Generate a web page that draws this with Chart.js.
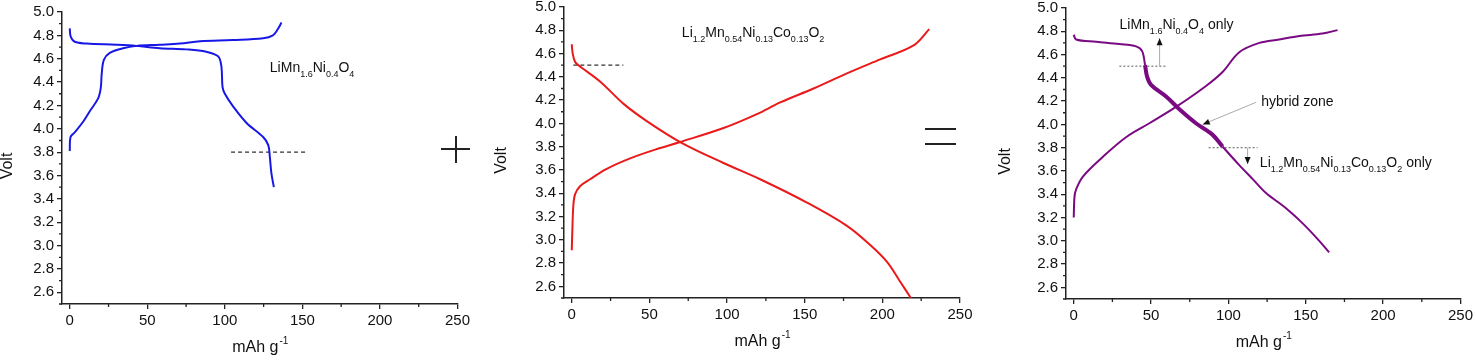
<!DOCTYPE html>
<html>
<head>
<meta charset="utf-8">
<script src="https://cdn.jsdelivr.net/npm/chart.js@4.4.1/dist/chart.umd.min.js"></script>
<style>
  html, body { margin: 0; padding: 0; background: #fff; }
  #wrap { position: relative; width: 1476px; height: 360px; overflow: hidden; }
  canvas { position: absolute; }
  .op { position: absolute; background: #222; }
</style>
</head>
<body>
<div id="wrap">
  <canvas id="c1" width="480" height="360" style="left:0px;top:0px"></canvas>
  <canvas id="c2" width="496" height="365" style="left:484px;top:-5px"></canvas>
  <canvas id="c3" width="496" height="364" style="left:980px;top:-4px"></canvas>
  <!-- signes entre les panneaux -->
  <div class="op" style="left:441px;top:148px;width:29px;height:1.5px"></div>
  <div class="op" style="left:455px;top:136px;width:1.5px;height:27px"></div>
  <div class="op" style="left:925px;top:128px;width:31px;height:1.5px"></div>
  <div class="op" style="left:925px;top:143px;width:31px;height:1.5px"></div>
</div>
<script>
// Axes
const xTicks = [0, 50, 100, 150, 200, 250];
const xMinor = [25, 75, 125, 175, 225];
const yTicks = [2.6, 2.8, 3.0, 3.2, 3.4, 3.6, 3.8, 4.0, 4.2, 4.4, 4.6, 4.8, 5.0];
const yMinor = [2.5, 2.7, 2.9, 3.1, 3.3, 3.5, 3.7, 3.9, 4.1, 4.3, 4.5, 4.7, 4.9];

// LiMn1.6Ni0.4O4 (bleu)
const lmnoChargeX = [0, 0.5, 3.2, 8.6, 12.9, 18.3, 20, 20.6, 22, 25.8, 34.4, 43, 58, 71, 84, 105, 124.7, 131, 134, 136.5];
const lmnoChargeY = [3.81, 3.93, 3.97, 4.06, 4.15, 4.26, 4.35, 4.47, 4.59, 4.65, 4.69, 4.71, 4.72, 4.73, 4.75, 4.76, 4.775, 4.80, 4.85, 4.91];
const lmnoDischX = [0, 0.6, 3.2, 10.8, 30, 43, 58, 75, 88, 95.7, 97.8, 98.5, 100, 105.4, 114, 124.7, 128, 129, 130, 131.6];
const lmnoDischY = [4.86, 4.79, 4.745, 4.73, 4.72, 4.71, 4.69, 4.68, 4.66, 4.62, 4.53, 4.36, 4.30, 4.19, 4.05, 3.93, 3.86, 3.76, 3.62, 3.50];
const lmnoCutX = [104, 152.7];
const lmnoCutY = [3.8, 3.8];

// Li1.2Mn0.54Ni0.13Co0.13O2 (rouge)
const lrChargeX = [0, 0.4, 1.0, 2.1, 5.3, 11.8, 22.5, 37.6, 54.8, 69.8, 97.7, 119.2, 134.2, 155.7, 177.2, 198.6, 220.1, 230.2];
const lrChargeY = [2.91, 3.09, 3.29, 3.39, 3.46, 3.52, 3.61, 3.70, 3.78, 3.84, 3.96, 4.08, 4.18, 4.30, 4.43, 4.55, 4.67, 4.81];
const lrDischX = [0, 0.6, 2.1, 4.3, 18.2, 33.2, 48.3, 69.8, 97.7, 121.3, 151.4, 177.2, 192.2, 203, 211.5, 218.4];
const lrDischY = [4.68, 4.60, 4.53, 4.50, 4.36, 4.17, 4.02, 3.84, 3.66, 3.52, 3.32, 3.12, 2.955, 2.81, 2.64, 2.50];
const lrCutX = [1, 33.2];
const lrCutY = [4.5, 4.5];

// hybride (violet)
const hyChargeX = [0, 0.5, 1.5, 5.8, 18.7, 33.8, 48.9, 66.1, 85.5, 96.2, 107, 120, 132.8, 145.8, 160.8, 170.5];
const hyChargeY = [3.20, 3.38, 3.44, 3.55, 3.72, 3.89, 4.01, 4.15, 4.33, 4.45, 4.62, 4.70, 4.73, 4.76, 4.78, 4.81];
const hyDischX = [0, 1.5, 14.5, 29.5, 40.3, 44.2, 46.1, 47.4, 50, 59.7, 68.3, 79, 89.8, 96.2, 107, 115.7, 124.3, 137.2, 148, 158.7, 165.1];
const hyDischY = [4.77, 4.73, 4.71, 4.69, 4.67, 4.63, 4.51, 4.41, 4.34, 4.24, 4.13, 4.01, 3.91, 3.81, 3.65, 3.53, 3.41, 3.28, 3.15, 3.00, 2.90];
const hyZone = [46, 97]; // partie épaisse
const hyCutHighX = [29.5, 59.7];
const hyCutHighY = [4.5, 4.5];
const hyCutLowX = [87.2, 118.8];
const hyCutLowY = [3.8, 3.8];

const axisColor = '#222';
const FONT = '"Liberation Sans", Arial, sans-serif';

function pts(xs, ys) {
  return xs.map((x, i) => ({ x: x, y: ys[i] }));
}

function courbe(xs, ys, color, extra) {
  return Object.assign({
    data: pts(xs, ys),
    showLine: true,
    borderColor: color,
    borderWidth: 2,
    pointRadius: 0,
    fill: false,
    tension: 0.35
  }, extra || {});
}

function pointille(xs, ys, color, dash) {
  return {
    data: pts(xs, ys),
    showLine: true,
    borderColor: color,
    borderWidth: 1.2,
    borderDash: dash,
    pointRadius: 0,
    fill: false
  };
}

// texte avec indices : 'Li_{1.2}Mn_{0.54}'
function drawChem(ctx, x, y, txt, size) {
  const morceaux = txt.split(/(_\{[^}]*\})/).filter(s => s.length);
  ctx.textBaseline = 'alphabetic';
  ctx.textAlign = 'left';
  let cx = x;
  morceaux.forEach(m => {
    if (m.startsWith('_{')) {
      const s = m.slice(2, -1);
      ctx.font = (size - 5) + 'px ' + FONT;
      ctx.fillText(s, cx, y + 5);
      cx += ctx.measureText(s).width;
    } else {
      ctx.font = size + 'px ' + FONT;
      ctx.fillText(m, cx, y);
      cx += ctx.measureText(m).width;
    }
  });
}

function fleche(ctx, x1, y1, x2, y2) {
  ctx.strokeStyle = '#aaa';
  ctx.lineWidth = 1;
  ctx.beginPath();
  ctx.moveTo(x1, y1);
  ctx.lineTo(x2, y2);
  ctx.stroke();
  const ang = Math.atan2(y2 - y1, x2 - x1);
  const L = 7, W = 3;
  ctx.fillStyle = '#111';
  ctx.beginPath();
  ctx.moveTo(x2, y2);
  ctx.lineTo(x2 - L * Math.cos(ang) + W * Math.sin(ang), y2 - L * Math.sin(ang) - W * Math.cos(ang));
  ctx.lineTo(x2 - L * Math.cos(ang) - W * Math.sin(ang), y2 - L * Math.sin(ang) + W * Math.cos(ang));
  ctx.closePath();
  ctx.fill();
}

const decor = {
  id: 'decor',
  afterDraw(chart, args, opts) {
    const { ctx, chartArea: a, scales: { x, y } } = chart;
    ctx.save();
    // petits traits
    ctx.strokeStyle = axisColor;
    ctx.lineWidth = 1.3;
    ctx.beginPath();
    xMinor.forEach(v => {
      const px = x.getPixelForValue(v);
      ctx.moveTo(px, a.bottom);
      ctx.lineTo(px, a.bottom + 3);
    });
    yMinor.forEach(v => {
      const py = y.getPixelForValue(v);
      ctx.moveTo(a.left, py);
      ctx.lineTo(a.left - 3, py);
    });
    ctx.stroke();

    ctx.fillStyle = '#111';
    // titre x
    ctx.font = '16px ' + FONT;
    const t1 = 'mAh g', t2 = '-1';
    const w1 = ctx.measureText(t1).width;
    ctx.font = '10px ' + FONT;
    const w2 = ctx.measureText(t2).width;
    const cx = (a.left + a.right) / 2 - (w1 + w2) / 2;
    const by = a.bottom + 48;
    ctx.textBaseline = 'alphabetic';
    ctx.textAlign = 'left';
    ctx.font = '16px ' + FONT;
    ctx.fillText(t1, cx, by);
    ctx.font = '10px ' + FONT;
    ctx.fillText(t2, cx + w1 + 1, by - 8);

    // titre y
    ctx.save();
    ctx.translate(opts.voltX, (a.top + a.bottom) / 2 + 8);
    ctx.rotate(-Math.PI / 2);
    ctx.font = '16px ' + FONT;
    ctx.textAlign = 'center';
    ctx.textBaseline = 'middle';
    ctx.fillText('Volt', 0, 0);
    ctx.restore();

    (opts.fleches || []).forEach(f => {
      fleche(ctx, x.getPixelForValue(f[0]), y.getPixelForValue(f[1]),
        x.getPixelForValue(f[2]), y.getPixelForValue(f[3]));
    });
    ctx.fillStyle = '#111';
    (opts.textes || []).forEach(t => {
      drawChem(ctx, x.getPixelForValue(t.x), y.getPixelForValue(t.y), t.txt, 14);
    });
    ctx.restore();
  }
};

function panneau(id, datasets, decorOpts, yw, xh, padRight) {
  return new Chart(document.getElementById(id), {
    type: 'scatter',
    data: { datasets: datasets },
    plugins: [decor],
    options: {
      responsive: false,
      animation: false,
      layout: { padding: { left: 0, right: padRight, top: 12, bottom: 0 } },
      plugins: { legend: { display: false }, tooltip: { enabled: false }, decor: decorOpts },
      scales: {
        x: {
          type: 'linear', min: -5, max: 250,
          afterBuildTicks: s => { s.ticks = xTicks.map(v => ({ value: v })); },
          afterFit: s => { s.height = xh; },
          grid: { drawOnChartArea: false, tickLength: 5, color: axisColor, lineWidth: 1.3 },
          border: { color: axisColor, width: 1.5 },
          ticks: { color: '#111', font: { family: FONT, size: 15 }, padding: 3, maxRotation: 0 }
        },
        y: {
          min: 2.5, max: 5.0,
          afterBuildTicks: s => { s.ticks = yTicks.map(v => ({ value: v })); },
          afterFit: s => { s.width = yw; },
          grid: { drawOnChartArea: false, tickLength: 5, color: axisColor, lineWidth: 1.3 },
          border: { color: axisColor, width: 1.5 },
          ticks: { color: '#111', font: { family: FONT, size: 15 }, padding: 3, callback: v => v.toFixed(1) }
        }
      }
    }
  });
}

const bleu = '#1818e6';
const rouge = '#ea1a1a';
const violet = '#7a0a82';

panneau('c1', [
  courbe(lmnoChargeX, lmnoChargeY, bleu),
  courbe(lmnoDischX, lmnoDischY, bleu),
  pointille(lmnoCutX, lmnoCutY, '#333', [4, 3])
], {
  voltX: 8,
  textes: [{ x: 129, y: 4.49, txt: 'LiMn_{1.6}Ni_{0.4}O_{4}' }]
}, 62, 56, 22.5);

panneau('c2', [
  courbe(lrChargeX, lrChargeY, rouge),
  courbe(lrDischX, lrDischY, rouge),
  pointille(lrCutX, lrCutY, '#333', [4, 3])
], {
  voltX: 18,
  textes: [{ x: 70.9, y: 4.745, txt: 'Li_{1.2}Mn_{0.54}Ni_{0.13}Co_{0.13}O_{2}' }]
}, 80, 62, 20);

panneau('c3', [
  courbe(hyChargeX, hyChargeY, violet),
  courbe(hyDischX, hyDischY, violet, {
    segment: {
      borderWidth: c => (c.p0.parsed.x >= hyZone[0] && c.p1.parsed.x <= hyZone[1]) ? 4 : 2
    }
  }),
  pointille(hyCutHighX, hyCutHighY, '#777', [2, 2]),
  pointille(hyCutLowX, hyCutLowY, '#777', [2, 2])
], {
  voltX: 26,
  fleches: [
    [55.5, 4.5, 55.5, 4.74],
    [112.4, 3.8, 112.4, 3.66],
    [117.9, 4.19, 83.4, 4.0]
  ],
  textes: [
    { x: 29.6, y: 4.82, txt: 'LiMn_{1.6}Ni_{0.4}O_{4} only' },
    { x: 121.2, y: 4.155, txt: 'hybrid zone' },
    { x: 120.3, y: 3.635, txt: 'Li_{1.2}Mn_{0.54}Ni_{0.13}Co_{0.13}O_{2} only' }
  ]
}, 86, 61, 14);
</script>
</body>
</html>
